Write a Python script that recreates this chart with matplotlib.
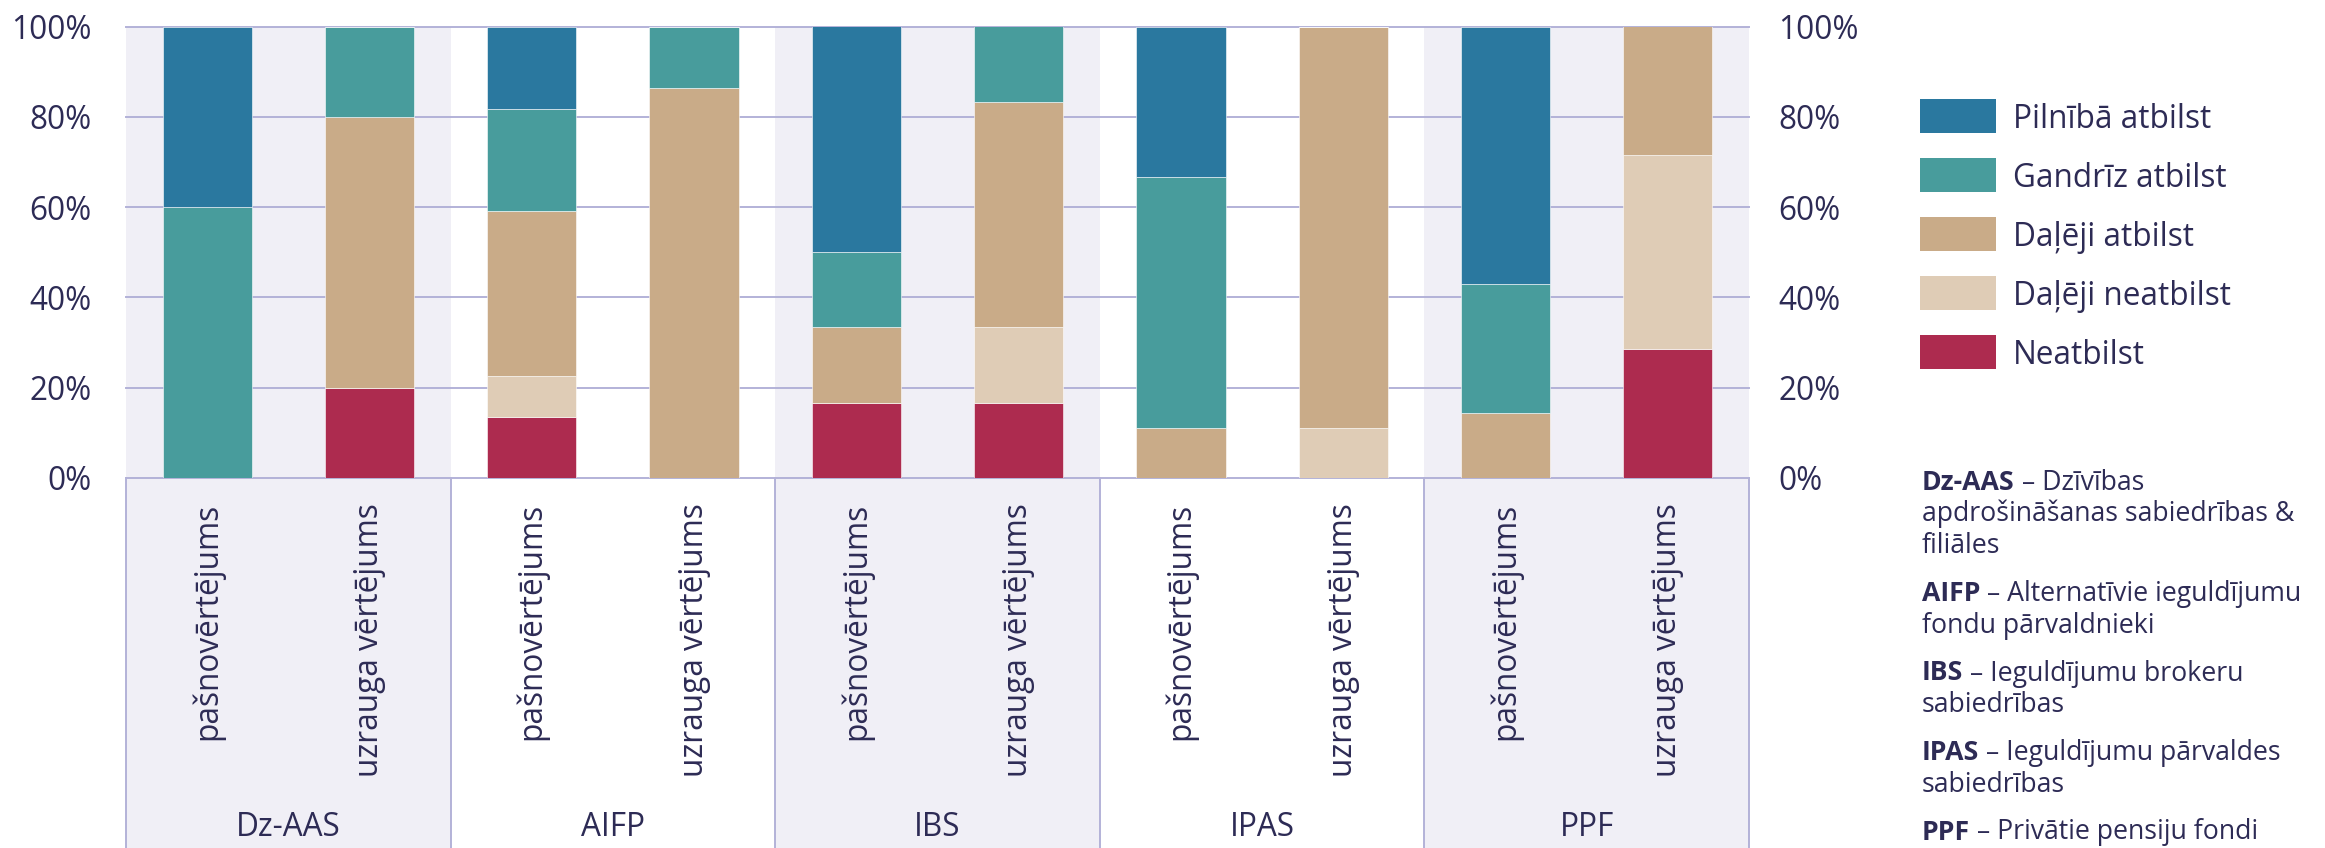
import numpy as np
import matplotlib.pyplot as plt
from matplotlib.patches import Rectangle
from matplotlib.transforms import blended_transform_factory

plt.rcParams['font.family'] = ['Open Sans', 'DejaVu Sans']

# dati
grupas = ['Dz-AAS', 'AIFP', 'IBS', 'IPAS', 'PPF']
vertejumi = ['pašnovērtējums', 'uzrauga vērtējums']

kategorijas = ['Neatbilst', 'Daļēji neatbilst', 'Daļēji atbilst', 'Gandrīz atbilst', 'Pilnībā atbilst']
krasas = ['#AD2B4F', '#DFCCB6', '#C9AB88', '#489C9C', '#2A789F']

# secība: Dz-AAS pašn., Dz-AAS uzr., AIFP pašn., AIFP uzr., ...
neatbilst       = [0, 20, 13.6, 0,    16.7, 16.7, 0,    0,    0,    28.6]
dalejineatbilst = [0, 0,  9.1,  0,    0,    16.7, 0,    11.1, 0,    42.9]
dalejiatbilst   = [0, 60, 36.4, 86.4, 16.7, 50.0, 11.1, 88.9, 14.3, 28.6]
gandriz         = [60, 20, 22.7, 13.6, 16.7, 16.7, 55.6, 0,   28.6, 0]
pilniba         = [40, 0, 18.2, 0,    50.0, 0,    33.3, 0,    57.1, 0]
vertibas = [neatbilst, dalejineatbilst, dalejiatbilst, gandriz, pilniba]

y_ticks = [0, 20, 40, 60, 80, 100]

TEKSTS = '#2D2B55'
FONS = '#F0EFF6'
LINIJA = '#B3B2D8'

W, H = 2325, 848
fig = plt.figure(figsize=(W / 100, H / 100), dpi=100)
ax = fig.add_axes([126 / W, 1 - 478 / H, 1623 / W, 451.3 / H])

x = np.arange(len(grupas) * len(vertejumi))
ax.set_xlim(-0.5, len(x) - 0.5)
ax.set_ylim(0, 100)

trans = blended_transform_factory(ax.transData, ax.transAxes)
apaksa = -0.82

# fona josla katrai otrajai grupai + rāmji zem ass
for g in range(len(grupas)):
    x0 = 2 * g - 0.5
    if g % 2 == 0:
        ax.axvspan(x0, x0 + 2, color=FONS, zorder=0, lw=0)
        ax.add_patch(Rectangle((x0, apaksa), 2, -apaksa, transform=trans,
                               facecolor=FONS, edgecolor='none', clip_on=False, zorder=0))
for xb in np.arange(-0.5, len(x), 2):
    ax.plot([xb, xb], [0, apaksa], transform=trans, color=LINIJA, lw=1.4, clip_on=False, zorder=1)

for yt in y_ticks:
    ax.axhline(yt, color=LINIJA, lw=1.4, zorder=1, clip_on=False)

bottom = np.zeros(len(x))
for vals, lab, col in zip(vertibas, kategorijas, krasas):
    vals = np.array(vals)
    ax.bar(x, vals, width=0.55, bottom=bottom, color=col, label=lab,
           edgecolor='white', linewidth=0.4, zorder=2)
    bottom += vals

for s in ax.spines.values():
    s.set_visible(False)
ax.set_xticks([])
ax.set_yticks(y_ticks)
ax.set_yticklabels([f'{t}%' for t in y_ticks])
ax.tick_params(axis='y', length=0, pad=24.5, labelsize=22.7, labelcolor=TEKSTS)

ax2 = ax.twinx()
ax2.set_ylim(0, 100)
ax2.set_yticks(y_ticks)
ax2.set_yticklabels([f'{t}%' for t in y_ticks])
ax2.tick_params(axis='y', length=0, pad=21, labelsize=22.7, labelcolor=TEKSTS)
for s in ax2.spines.values():
    s.set_visible(False)

# kategoriju nosaukumi
for i in x:
    ax.text(i, -0.055, vertejumi[i % 2], transform=trans, rotation=90,
            ha='center', va='top', fontsize=22.7, color=TEKSTS)
for g, nos in enumerate(grupas):
    ax.text(2 * g + 0.5, -0.7755, nos, transform=trans, ha='center', va='center',
            fontsize=22.7, color=TEKSTS)

# leģenda
for k, (lab, col) in enumerate(zip(kategorijas[::-1], krasas[::-1])):
    yc = 116 + 59 * k
    fig.add_artist(Rectangle((1920 / W, 1 - (yc + 17) / H), 76 / W, 34 / H,
                             transform=fig.transFigure, facecolor=col, edgecolor='none'))
    fig.text(2013 / W, 1 - (yc + 12) / H, lab, ha='left', va='baseline',
             fontsize=22.7, color=TEKSTS)

# skaidrojumi
skaidrojumi = [
    ('Dz-AAS', ['– Dzīvības', 'apdrošināšanas sabiedrības &', 'filiāles']),
    ('AIFP', ['– Alternatīvie ieguldījumu', 'fondu pārvaldnieki']),
    ('IBS', ['– Ieguldījumu brokeru', 'sabiedrības']),
    ('IPAS', ['– Ieguldījumu pārvaldes', 'sabiedrības']),
    ('PPF', ['– Privātie pensiju fondi']),
]
renderer = fig.canvas.get_renderer()
yb = 490
for abbr, rindas in skaidrojumi:
    t = fig.text(1922 / W, 1 - yb / H, abbr, fontsize=19.2, fontweight='bold',
                 color=TEKSTS, ha='left', va='baseline')
    bb = t.get_window_extent(renderer)
    fig.text(bb.x1 / W, 1 - yb / H, ' ' + rindas[0], fontsize=19.2, color=TEKSTS,
             ha='left', va='baseline')
    for r in rindas[1:]:
        yb += 31.5
        fig.text(1922 / W, 1 - yb / H, r, fontsize=19.2, color=TEKSTS, ha='left', va='baseline')
    yb += 48

fig.savefig('out.png', dpi=100)
